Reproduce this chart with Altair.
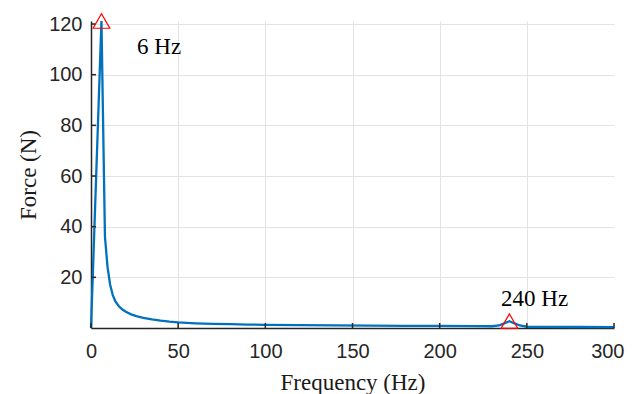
import altair as alt
import pandas as pd

# Spectrum data
freq = [0, 6, 8, 9.5, 11, 12.5, 14, 16, 18, 20, 23, 26, 30, 35, 40, 45, 50, 60, 70, 80,
        90, 100, 120, 140, 160, 180, 200, 220, 230, 234, 237, 240, 243, 246, 250, 260, 280, 300]
force = [0, 121.2, 36, 24, 17, 13, 10.5, 8.6, 7.3, 6.4, 5.4, 4.7, 4.0, 3.4, 2.9, 2.5, 2.2, 1.85,
         1.65, 1.5, 1.35, 1.25, 1.1, 1.0, 0.9, 0.85, 0.8, 0.75, 0.7, 1.0, 1.8, 2.7, 1.8, 1.0,
         0.5, 0.45, 0.4, 0.35]

# Peaks
peak_freq = [6, 240]
peak_force = [121.2, 2.7]

# Annotations
label_text = ["6 Hz", "240 Hz"]
label_x = [26.4, 235.2]
label_y = [108, 8.8]

x_ticks = [0, 50, 100, 150, 200, 250, 300]
y_ticks = [20, 40, 60, 80, 100, 120]

df = pd.DataFrame({"f": freq, "F": force})
peaks = pd.DataFrame({"f": peak_freq, "F": peak_force})
labels = pd.DataFrame({"t": label_text, "x": label_x, "y": label_y})
xt = pd.DataFrame({"v": x_ticks})
yt = pd.DataFrame({"v": y_ticks})

W, H = 523, 307
AX = "#262626"

xscale = alt.Scale(domain=[0, 300], nice=False, zero=False)
yscale = alt.Scale(domain=[0, 121.2], nice=False)

last = "datum.value == 300"
xaxis = alt.Axis(values=x_ticks, title="Frequency (Hz)", grid=True,
                 gridOpacity=alt.condition(last, alt.value(0), alt.value(1)),
                 labelAlign=alt.condition(last, alt.value("right"), alt.value("center")),
                 labelOffset=alt.condition(last, alt.value(10), alt.value(0)),
                 tickSize=0, labelPadding=13, titlePadding=10, labelFlush=False)
yaxis = alt.Axis(values=y_ticks, title="Force (N)", grid=True, tickSize=0,
                 labelPadding=9, titlePadding=8, labelFlush=False)

line = alt.Chart(df).mark_line(color="#0072BD", strokeWidth=2.3).encode(
    x=alt.X("f:Q", scale=xscale, axis=xaxis),
    y=alt.Y("F:Q", scale=yscale, axis=yaxis),
)

tri = alt.Chart(peaks).mark_point(shape="triangle-up", filled=False, color="#FF0000",
                                  size=280, strokeWidth=1.2, opacity=1).encode(
    x=alt.X("f:Q", scale=xscale),
    y=alt.Y("F:Q", scale=yscale),
)

txt = alt.Chart(labels).mark_text(font="Liberation Serif", fontSize=23, align="left",
                                  baseline="alphabetic", color="#000000").encode(
    x=alt.X("x:Q", scale=xscale),
    y=alt.Y("y:Q", scale=yscale),
    text="t:N",
)

xtick = alt.Chart(xt).mark_rule(color=AX, strokeWidth=1.5).encode(
    x=alt.X("v:Q", scale=xscale),
    y=alt.value(H), y2=alt.value(H - 5),
)
ytick = alt.Chart(yt).mark_rule(color=AX, strokeWidth=1.5).encode(
    y=alt.Y("v:Q", scale=yscale),
    x=alt.value(0), x2=alt.value(5),
)

chart = alt.layer(line, xtick, ytick, tri, txt).properties(
    width=W, height=H,
    padding={"left": 83, "top": 13, "right": 11, "bottom": 66},
    autosize=alt.AutoSizeParams(type="none"),
).configure_view(stroke=None).configure_axis(
    domainColor=AX, domainWidth=1.5,
    gridColor="#e3e3e3", gridWidth=1,
    labelFont="Liberation Sans", labelFontSize=20, labelColor=AX,
    titleFont="Liberation Serif", titleFontSize=23, titleColor="#1a1a1a",
    titleFontWeight="normal",
)

chart.save("out.html", embed_options={"renderer": "svg", "actions": False})
